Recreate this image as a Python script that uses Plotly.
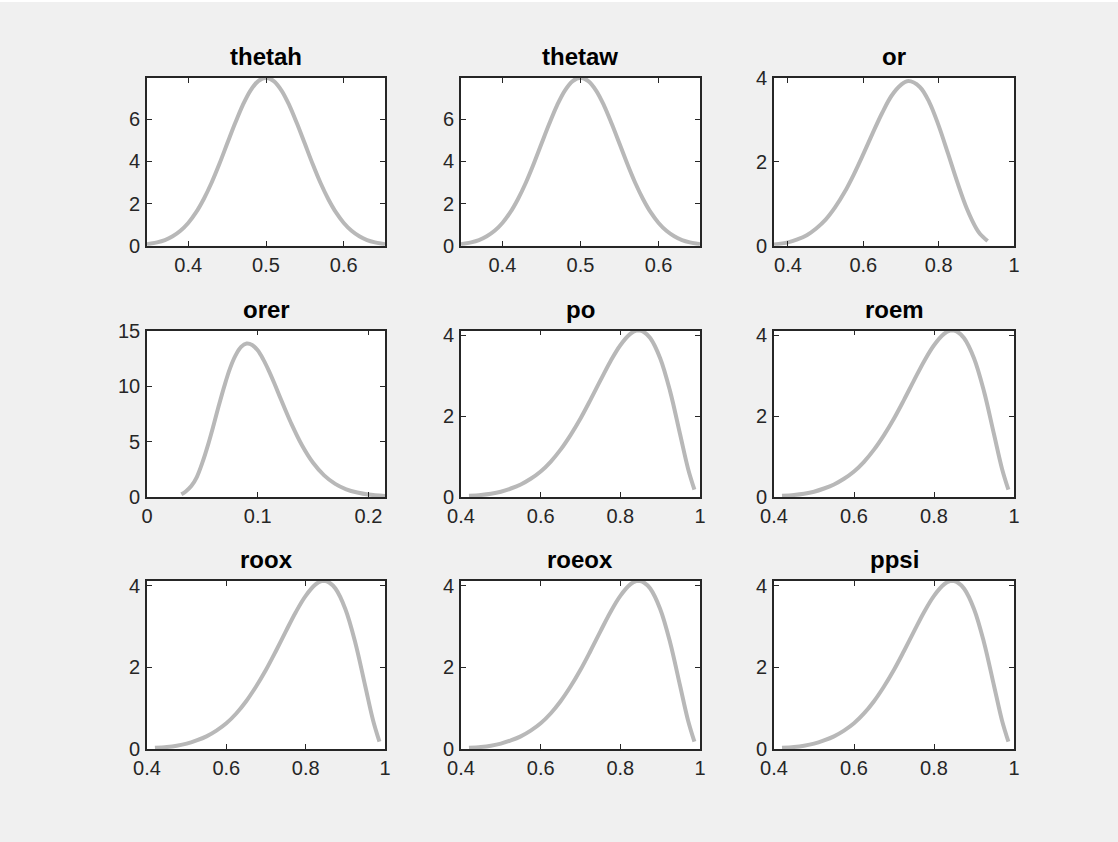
import plotly.graph_objects as go

# ---- prior densities, one list pair per parameter ----
theta_x = [0.347, 0.35, 0.36, 0.37, 0.38, 0.39, 0.40, 0.41, 0.42, 0.43, 0.44, 0.45,
           0.46, 0.47, 0.48, 0.49, 0.50, 0.51, 0.52, 0.53, 0.54, 0.55, 0.56, 0.57,
           0.58, 0.59, 0.60, 0.61, 0.62, 0.63, 0.64, 0.65, 0.653]
theta_y = [0.07, 0.09, 0.16, 0.27, 0.45, 0.71, 1.08, 1.58, 2.22, 2.99, 3.88, 4.84,
           5.79, 6.67, 7.37, 7.82, 7.98, 7.82, 7.37, 6.67, 5.79, 4.84, 3.88, 2.99,
           2.22, 1.58, 1.08, 0.71, 0.45, 0.27, 0.16, 0.09, 0.07]

or_x = [0.363, 0.40, 0.425, 0.45, 0.475, 0.50, 0.525, 0.55, 0.575, 0.60, 0.625,
        0.65, 0.675, 0.70, 0.72, 0.75, 0.775, 0.80, 0.825, 0.85, 0.875, 0.90,
        0.91, 0.93]
or_y = [0.03, 0.08, 0.15, 0.25, 0.41, 0.62, 0.91, 1.27, 1.70, 2.18, 2.68,
        3.16, 3.57, 3.83, 3.92, 3.78, 3.42, 2.86, 2.19, 1.50, 0.88, 0.41,
        0.28, 0.11]

orer_x = [0.031, 0.035, 0.04, 0.045, 0.05, 0.055, 0.06, 0.065, 0.07, 0.075, 0.08,
          0.085, 0.09, 0.095, 0.10, 0.105, 0.11, 0.115, 0.12, 0.125, 0.13,
          0.14, 0.15, 0.16, 0.17, 0.18, 0.19, 0.20, 0.215]
orer_y = [0.25, 0.50, 0.98, 1.80, 3.09, 4.65, 6.42, 8.28, 10.04, 11.59, 12.76,
          13.52, 13.82, 13.70, 13.21, 12.40, 11.39, 10.25, 9.04, 7.84, 6.69,
          4.66, 3.08, 1.95, 1.18, 0.69, 0.40, 0.22, 0.09]

rho_x = [0.42, 0.45, 0.475, 0.50, 0.525, 0.55, 0.575, 0.60, 0.625, 0.65, 0.675,
         0.70, 0.725, 0.75, 0.775, 0.80, 0.825, 0.84, 0.85, 0.86, 0.875, 0.90,
         0.925, 0.95, 0.97, 0.986]
rho_y = [0.03, 0.05, 0.08, 0.13, 0.21, 0.31, 0.45, 0.63, 0.87, 1.17, 1.53,
         1.94, 2.40, 2.88, 3.35, 3.75, 4.03, 4.11, 4.11, 4.07, 3.93, 3.43,
         2.61, 1.55, 0.70, 0.18]

titles = ["thetah", "thetaw", "or", "orer", "po", "roem", "roox", "roeox", "ppsi"]
curves = [(theta_x, theta_y), (theta_x, theta_y), (or_x, or_y),
          (orer_x, orer_y), (rho_x, rho_y), (rho_x, rho_y),
          (rho_x, rho_y), (rho_x, rho_y), (rho_x, rho_y)]

x_ranges = [[0.347, 0.653], [0.347, 0.653], [0.363, 1.0],
            [0.0, 0.215], [0.4, 1.0], [0.4, 1.0],
            [0.4, 1.0], [0.4, 1.0], [0.4, 1.0]]
y_ranges = [[0, 7.98], [0, 7.98], [0, 4.0],
            [0, 15.0], [0, 4.114], [0, 4.114],
            [0, 4.114], [0, 4.114], [0, 4.114]]

x_ticks = [[0.4, 0.5, 0.6], [0.4, 0.5, 0.6], [0.4, 0.6, 0.8, 1.0],
           [0.0, 0.1, 0.2], [0.4, 0.6, 0.8, 1.0], [0.4, 0.6, 0.8, 1.0],
           [0.4, 0.6, 0.8, 1.0], [0.4, 0.6, 0.8, 1.0], [0.4, 0.6, 0.8, 1.0]]
x_ticktext = [["0.4", "0.5", "0.6"], ["0.4", "0.5", "0.6"], ["0.4", "0.6", "0.8", "1"],
              ["0", "0.1", "0.2"], ["0.4", "0.6", "0.8", "1"], ["0.4", "0.6", "0.8", "1"],
              ["0.4", "0.6", "0.8", "1"], ["0.4", "0.6", "0.8", "1"], ["0.4", "0.6", "0.8", "1"]]
y_ticks = [[0, 2, 4, 6], [0, 2, 4, 6], [0, 2, 4],
           [0, 5, 10, 15], [0, 2, 4], [0, 2, 4],
           [0, 2, 4], [0, 2, 4], [0, 2, 4]]

# ---- page geometry (pixels) ----
W, H = 1118, 842
col_px = [(147, 385), (461, 700), (774, 1014)]
row_px = [(77.7, 245.7), (330.5, 497), (581, 749)]

LINE_COLOR = "#b8b8b8"
AXIS_COLOR = "#262626"
BG = "#f0f0f0"
FONT = "Liberation Sans, Arial, sans-serif"

fig = go.Figure()
layout = dict(
    width=W, height=H,
    margin=dict(l=0, r=0, t=0, b=0, pad=0, autoexpand=False),
    paper_bgcolor=BG,
    plot_bgcolor="#ffffff",
    showlegend=False,
    font=dict(family=FONT, color=AXIS_COLOR, size=20),
    annotations=[],
    shapes=[dict(type="rect", xref="paper", yref="paper",
                 x0=0, x1=1, y0=1 - 2 / H, y1=1,
                 fillcolor="#ffffff", line=dict(width=0), layer="below")],
)

for i, (name, (xs, ys)) in enumerate(zip(titles, curves)):
    r, c = divmod(i, 3)
    n = "" if i == 0 else str(i + 1)
    xd = [col_px[c][0] / W, col_px[c][1] / W]
    yd = [1 - row_px[r][1] / H, 1 - row_px[r][0] / H]
    fig.add_trace(go.Scatter(
        x=xs, y=ys, mode="lines",
        line=dict(color=LINE_COLOR, width=4, shape="spline", smoothing=1.0),
        xaxis="x" + n, yaxis="y" + n, hoverinfo="skip",
    ))
    common = dict(
        showline=True, mirror="ticks", linecolor=AXIS_COLOR, linewidth=1.6,
        ticks="inside", ticklen=5, tickwidth=1.3, tickcolor=AXIS_COLOR,
        showgrid=False, zeroline=False, fixedrange=True, automargin=False,
        tickfont=dict(family=FONT, size=20, color=AXIS_COLOR),
    )
    layout["xaxis" + n] = dict(
        domain=xd, anchor="y" + n, range=x_ranges[i],
        tickmode="array", tickvals=x_ticks[i], ticktext=x_ticktext[i],
        ticklabelstandoff=0, **common,
    )
    layout["yaxis" + n] = dict(
        domain=yd, anchor="x" + n, range=y_ranges[i],
        tickmode="array", tickvals=y_ticks[i],
        ticklabelstandoff=1, **common,
    )
    layout["annotations"].append(dict(
        text="<b>" + name + "</b>", xref="paper", yref="paper",
        x=(xd[0] + xd[1]) / 2, y=yd[1], xanchor="center", yanchor="bottom",
        yshift=6, showarrow=False,
        font=dict(family=FONT, size=24, color="#000000"),
    ))

fig.update_layout(**layout)
# the page itself carries no margin so the figure fills the window exactly
fig.write_html(
    "out.html",
    post_script="document.body.style.margin='0';"
                "document.body.style.background='" + BG + "';",
)
